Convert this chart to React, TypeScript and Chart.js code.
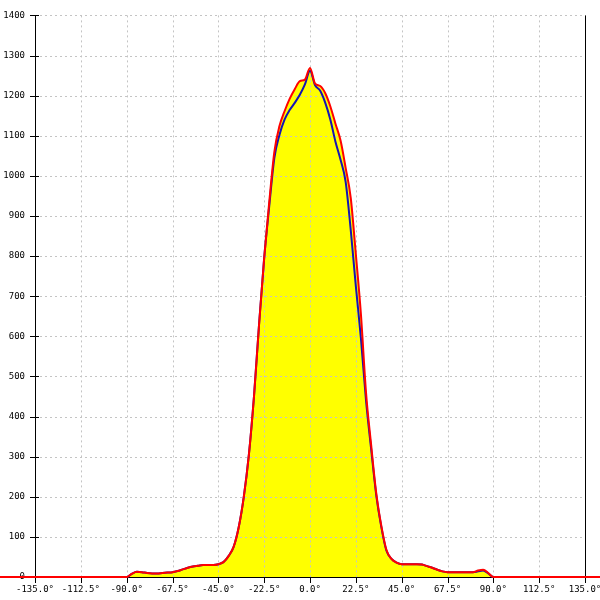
import React, { useEffect, useRef } from 'react';
import { Chart, registerables } from 'chart.js';

Chart.register(...registerables);

// Angles (degrees) of the measured samples
const angles = [
  -180,
  -90, -87.5, -85, -82.5, -80, -77.5, -75, -72.5, -70, -67.5,
  -65, -62.5, -60, -57.5, -55, -52.5, -50, -47.5, -45, -42.5,
  -40, -37.5, -35, -32.5, -30, -27.5, -25, -22.5, -20, -17.5,
  -15, -12.5, -10, -7.5, -5, -2.5, 0, 2.5, 5, 7.5,
  10, 12.5, 15, 17.5, 20, 22.5, 25, 27.5, 30, 32.5,
  35, 37.5, 40, 42.5, 45, 47.5, 50, 52.5, 55, 57.5,
  60, 62.5, 65, 67.5, 70, 72.5, 75, 77.5, 80, 82.5,
  85, 87.5, 90,
  180,
];

const redValues = [
  0,
  0, 8, 13, 12, 10, 9, 9, 10, 11, 12,
  15, 19, 23, 26, 28, 30, 30, 30, 32, 37,
  52, 75, 124, 200, 305, 450, 630, 795, 935, 1060,
  1124, 1161, 1192, 1216, 1236, 1240, 1269, 1230, 1224, 1206,
  1173, 1130, 1088, 1020, 945, 805, 655, 460, 330, 210,
  128, 68, 45, 36, 32, 32, 32, 32, 31, 27,
  23, 18, 14, 12, 12, 12, 12, 12, 12, 16,
  18, 10, 0,
  0,
];

const blueValues = [
  0,
  0, 8, 13, 12, 10, 9, 9, 10, 11, 12,
  15, 19, 23, 26, 28, 30, 30, 30, 32, 37,
  52, 75, 124, 200, 305, 450, 630, 795, 925, 1045,
  1102, 1140, 1164, 1182, 1202, 1228, 1262, 1226, 1212, 1182,
  1140, 1085, 1040, 985, 865, 725, 595, 440, 320, 205,
  125, 66, 45, 36, 32, 32, 32, 32, 31, 27,
  23, 18, 14, 12, 12, 12, 12, 12, 12, 14,
  16, 9, 0,
  0,
];

const xMin = -135;
const xMax = 135;
const xStep = 22.5;
const yMin = 0;
const yMax = 1400;
const yStep = 100;

const tickFont = { family: "'DejaVu Sans Mono', monospace", size: 9 };

const axesPlugin = {
  id: 'axesGrid',
  beforeDatasetsDraw(chart: any) {
    const { ctx, chartArea, scales } = chart;
    const { left, right, top, bottom } = chartArea;
    const xs = scales.x;
    const ys = scales.y;
    ctx.save();
    ctx.lineWidth = 1;
    ctx.strokeStyle = '#c4c4c4';
    ctx.setLineDash([2, 3]);
    xs.ticks.forEach((t: any) => {
      if (t.value === xMin || t.value === xMax) return;
      const px = Math.round(xs.getPixelForValue(t.value)) + 0.5;
      ctx.beginPath();
      ctx.moveTo(px, top);
      ctx.lineTo(px, bottom);
      ctx.stroke();
    });
    ys.ticks.forEach((t: any) => {
      if (t.value === yMin) return;
      const py = Math.round(ys.getPixelForValue(t.value)) + 0.5;
      ctx.beginPath();
      ctx.moveTo(left, py);
      ctx.lineTo(right, py);
      ctx.stroke();
    });
    ctx.setLineDash([]);
    ctx.strokeStyle = '#000';
    const L = Math.round(left) + 0.5;
    const R = Math.round(right) + 0.5;
    const B = Math.round(bottom) + 0.5;
    ctx.beginPath();
    ctx.moveTo(L, top);
    ctx.lineTo(L, bottom);
    ctx.moveTo(R, top);
    ctx.lineTo(R, bottom);
    ctx.moveTo(left, B);
    ctx.lineTo(right, B);
    ys.ticks.forEach((t: any) => {
      const py = Math.round(ys.getPixelForValue(t.value)) + 0.5;
      ctx.moveTo(left - 5, py);
      ctx.lineTo(left + 4, py);
    });
    xs.ticks.forEach((t: any) => {
      const px = Math.round(xs.getPixelForValue(t.value)) + 0.5;
      ctx.moveTo(px, bottom);
      ctx.lineTo(px, bottom + 6);
    });
    ctx.stroke();
    ctx.restore();
  },
};

export default function App() {
  const canvasRef = useRef<HTMLCanvasElement | null>(null);

  useEffect(() => {
    document.body.style.margin = '0';
    const canvas = canvasRef.current;
    if (!canvas) return;
    const redData = angles.map((a, i) => ({ x: a, y: redValues[i] }));
    const blueData = angles.map((a, i) => ({ x: a, y: blueValues[i] }));
    const chart = new Chart(canvas, {
      type: 'line',
      data: {
        datasets: [
          {
            label: 'red',
            data: redData,
            borderColor: '#ff0000',
            borderWidth: 2,
            pointRadius: 0,
            fill: 'origin',
            backgroundColor: '#ffff00',
            cubicInterpolationMode: 'monotone',
            clip: false,
          } as any,
          {
            label: 'blue',
            data: blueData,
            borderColor: '#1414b4',
            borderWidth: 2,
            pointRadius: 0,
            fill: false,
            cubicInterpolationMode: 'monotone',
            clip: false,
          } as any,
        ],
      },
      options: {
        responsive: false,
        animation: false,
        devicePixelRatio: 1,
        layout: { padding: { top: 15, right: 15, left: 0, bottom: 0 } },
        scales: {
          x: {
            type: 'linear',
            min: xMin,
            max: xMax,
            grid: { display: false, drawTicks: false },
            border: { display: false },
            ticks: {
              stepSize: xStep,
              autoSkip: false,
              maxRotation: 0,
              minRotation: 0,
              padding: 7,
              color: '#000',
              font: tickFont,
              callback: (v: any) => Number(v).toFixed(1) + '°',
            },
            afterFit: (s: any) => {
              s.height = 23;
              s.paddingLeft = 0;
              s.paddingRight = 0;
            },
          },
          y: {
            type: 'linear',
            min: yMin,
            max: yMax,
            grid: { display: false, drawTicks: false },
            border: { display: false },
            ticks: {
              stepSize: yStep,
              padding: 10,
              color: '#000',
              font: tickFont,
              callback: (v: any) => String(v),
            },
            afterFit: (s: any) => {
              s.width = 35;
            },
          },
        },
        plugins: {
          legend: { display: false },
          tooltip: { enabled: false },
          filler: { drawTime: 'beforeDraw' },
        } as any,
      },
      plugins: [axesPlugin],
    });
    return () => chart.destroy();
  }, []);

  return <canvas ref={canvasRef} width={600} height={600} style={{ display: 'block' }} />;
}
